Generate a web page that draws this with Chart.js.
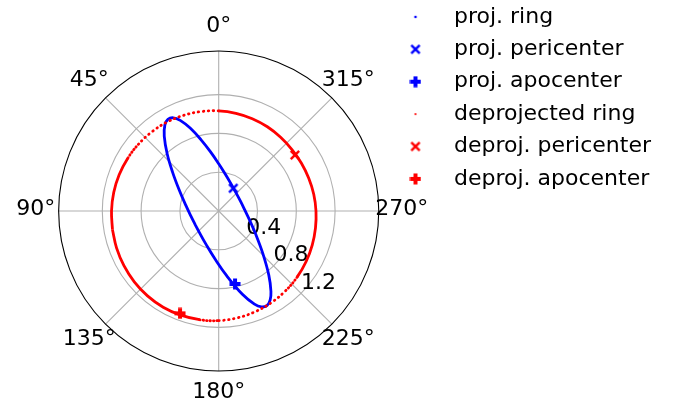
<!DOCTYPE html>
<html lang="en">
<head>
<meta charset="utf-8">
<title>Ring deprojection</title>
<style>
  body { margin: 0; background: #fff; }
  canvas { display: block; }
</style>
</head>
<body>
<canvas id="myChart" width="676" height="405"></canvas>

<script src="https://cdn.jsdelivr.net/npm/chart.js@4.4.0/dist/chart.umd.min.js"></script>
<script>
// polar data: angle in degrees (0 at top, counter-clockwise), radius
// projected ring (blue)
const projTheta = [0, 8, 14, 19, 23, 26, 29, 32, 36, 42, 50, 62, 80, 100, 120, 140, 160, 175,
  187, 196, 201, 204, 207, 210, 213, 218, 226, 238, 255, 275, 295, 315, 335, 350];
const projR = [0.487, 0.618, 0.759, 0.904, 1.015, 1.069, 1.080, 1.047, 0.955, 0.794, 0.620, 0.461, 0.345, 0.292, 0.280, 0.302, 0.372, 0.489,
  0.672, 0.896, 1.029, 1.082, 1.095, 1.060, 0.989, 0.839, 0.633, 0.449, 0.325, 0.264, 0.246, 0.257, 0.305, 0.387];

// deprojected ring (red)
const deprojTheta = [0, 10, 20, 30, 40, 50, 60, 70, 80, 90, 100, 110, 120, 130, 140, 150, 160, 170,
  180, 190, 200, 210, 220, 230, 240, 250, 260, 270, 280, 290, 300, 310, 320, 330, 340, 350];
const deprojR = [1.032, 1.041, 1.050, 1.060, 1.068, 1.076, 1.084, 1.092, 1.099, 1.105, 1.112, 1.120, 1.128, 1.136, 1.142, 1.145, 1.143, 1.138,
  1.130, 1.118, 1.104, 1.089, 1.073, 1.057, 1.041, 1.026, 1.013, 1.003, 0.995, 0.988, 0.985, 0.986, 0.993, 1.003, 1.013, 1.023];

// single points [theta, r]
const projPeri = [327.3, 0.278];
const projApo = [192.6, 0.771];
const deprojPeri = [306.3, 0.975];
const deprojApo = [159.3, 1.128];

// axes
const rTicks = [0.4, 0.8, 1.2];
const rTickLabels = ['0.4', '0.8', '1.2'];
const rMax = 1.65;
const angleTicks = [0, 45, 90, 135, 180, 225, 270, 315];
const angleLabels = ['0°', '45°', '90°', '135°', '180°', '225°', '270°', '315°'];
const rLabelAngle = 225;

// plot centre and pixels per radial unit
const CX = 218.7, CY = 211, PPU = 97;
const FONT = 'DejaVu Sans';

function polar(t, r) {
  const a = t * Math.PI / 180;
  return {x: -r * Math.sin(a), y: r * Math.cos(a), t: t};
}

// closed ring, started at a smooth spot
function ring(thetas, rs, start) {
  const pts = [];
  for (let k = 0; k <= thetas.length; k++) {
    const i = (start + k) % thetas.length;
    pts.push(polar(thetas[i], rs[i]));
  }
  return pts;
}

// marker images (matplotlib style)
function dotMark(color, r) {
  const c = document.createElement('canvas');
  c.width = c.height = 6;
  const g = c.getContext('2d');
  g.fillStyle = color;
  g.beginPath(); g.arc(3, 3, r, 0, 2 * Math.PI); g.fill();
  return c;
}
function xMark(color) {
  const c = document.createElement('canvas');
  c.width = c.height = 14;
  const g = c.getContext('2d');
  g.strokeStyle = color; g.lineWidth = 2.4;
  g.beginPath();
  g.moveTo(2.8, 2.8); g.lineTo(11.2, 11.2);
  g.moveTo(11.2, 2.8); g.lineTo(2.8, 11.2);
  g.stroke();
  return c;
}
function plusMark(color) {
  const c = document.createElement('canvas');
  c.width = c.height = 12;
  const g = c.getContext('2d');
  g.fillStyle = color;
  g.fillRect(4, 0.5, 4, 11);
  g.fillRect(0.5, 4, 11, 4);
  return c;
}

const BLUE = '#0000ff', RED = '#ff0000';

// red ring is drawn sparse (dotted) on some stretches
function redDash(ctx) {
  const t = ctx.chart.data.datasets[ctx.datasetIndex].data[ctx.p0DataIndex].t;
  if (t < 50) return [0.5, 4.5];
  if (t < 60) return [0.5, 3];
  if (t >= 170 && t < 180) return [0.5, 3];
  if (t >= 180 && t < 220) return [0.5, 4.5];
  if (t >= 220 && t < 230) return [0.5, 3];
  return undefined;
}
function redCap(ctx) {
  return redDash(ctx) ? 'round' : undefined;
}

function pix(chart, t, r) {
  const x = chart.scales.x, y = chart.scales.y;
  const p = polar(t, r);
  return [x.getPixelForValue(p.x), y.getPixelForValue(p.y)];
}

// polar frame: fixes the scales to a round plot and draws grid + labels
const polarFrame = {
  id: 'polarFrame',
  afterLayout(chart) {
    const a = chart.chartArea, xs = chart.scales.x, ys = chart.scales.y;
    xs.min = (a.left - CX) / PPU; xs.max = (a.right - CX) / PPU; xs.configure();
    ys.min = (CY - a.bottom) / PPU; ys.max = (CY - a.top) / PPU; ys.configure();
  },
  beforeDatasetsDraw(chart) {
    const ctx = chart.ctx;
    const [cx, cy] = pix(chart, 0, 0);
    const k = chart.scales.x.getPixelForValue(1) - cx;
    ctx.save();
    ctx.strokeStyle = '#b0b0b0';
    ctx.lineWidth = 1.1;
    rTicks.forEach(r => {
      ctx.beginPath(); ctx.arc(cx, cy, r * k, 0, 2 * Math.PI); ctx.stroke();
    });
    angleTicks.forEach(t => {
      const [px, py] = pix(chart, t, rMax);
      ctx.beginPath(); ctx.moveTo(cx, cy); ctx.lineTo(px, py); ctx.stroke();
    });
    ctx.strokeStyle = '#000';
    ctx.beginPath(); ctx.arc(cx, cy, rMax * k, 0, 2 * Math.PI); ctx.stroke();

    ctx.fillStyle = '#000';
    ctx.font = '22px "' + FONT + '"';
    ctx.textAlign = 'center';
    ctx.textBaseline = 'middle';
    angleTicks.forEach((t, i) => {
      const a = t * Math.PI / 180, d = rMax * k + 23;
      ctx.fillText(angleLabels[i], cx - d * Math.sin(a), cy - d * Math.cos(a) - 1.5);
    });
    ctx.textAlign = 'left';
    ctx.textBaseline = 'alphabetic';
    rTicks.forEach((r, i) => {
      const [px, py] = pix(chart, rLabelAngle, r);
      ctx.fillText(rTickLabels[i], px, py - 4.5);
    });
    ctx.restore();
  }
};

const datasets = [
  {
    label: 'proj. ring',
    data: ring(projTheta, projR, 14),
    showLine: true, tension: 0.4,
    borderColor: BLUE, borderWidth: 2.8,
    pointRadius: 0, pointHitRadius: 0,
    pointStyle: dotMark(BLUE, 1.3)
  },
  {
    label: 'proj. pericenter',
    data: [polar(projPeri[0], projPeri[1])],
    pointRadius: 5, pointStyle: xMark(BLUE)
  },
  {
    label: 'proj. apocenter',
    data: [polar(projApo[0], projApo[1])],
    pointRadius: 5, pointStyle: plusMark(BLUE)
  },
  {
    label: 'deprojected ring',
    data: ring(deprojTheta, deprojR, 10),
    showLine: true, tension: 0.4,
    borderColor: RED, borderWidth: 2.8,
    pointRadius: 0, pointHitRadius: 0,
    pointStyle: dotMark(RED, 1.1),
    segment: { borderDash: redDash, borderCapStyle: redCap }
  },
  {
    label: 'deproj. pericenter',
    data: [polar(deprojPeri[0], deprojPeri[1])],
    pointRadius: 5, pointStyle: xMark(RED)
  },
  {
    label: 'deproj. apocenter',
    data: [polar(deprojApo[0], deprojApo[1])],
    pointRadius: 5, pointStyle: plusMark(RED)
  }
];
// later series on top, like the original
datasets.forEach((d, i) => { d.order = datasets.length - i; });

Chart.defaults.font.family = FONT;

const myChart = new Chart(document.getElementById('myChart'), {
  type: 'scatter',
  data: { datasets: datasets },
  options: {
    responsive: false,
    animation: false,
    events: [],
    layout: { padding: { top: -4.5, right: 15, bottom: 0, left: 0 } },
    scales: {
      x: { type: 'linear', display: false, min: -2, max: 2 },
      y: { type: 'linear', display: false, min: -2, max: 2 }
    },
    plugins: {
      legend: {
        position: 'right',
        align: 'start',
        labels: {
          usePointStyle: true,
          pointStyleWidth: 55,
          padding: 10.4,
          color: '#000',
          font: { family: FONT, size: 22 },
          sort: (a, b) => a.datasetIndex - b.datasetIndex
        }
      },
      tooltip: { enabled: false }
    }
  },
  plugins: [polarFrame]
});
</script>
</body>
</html>
